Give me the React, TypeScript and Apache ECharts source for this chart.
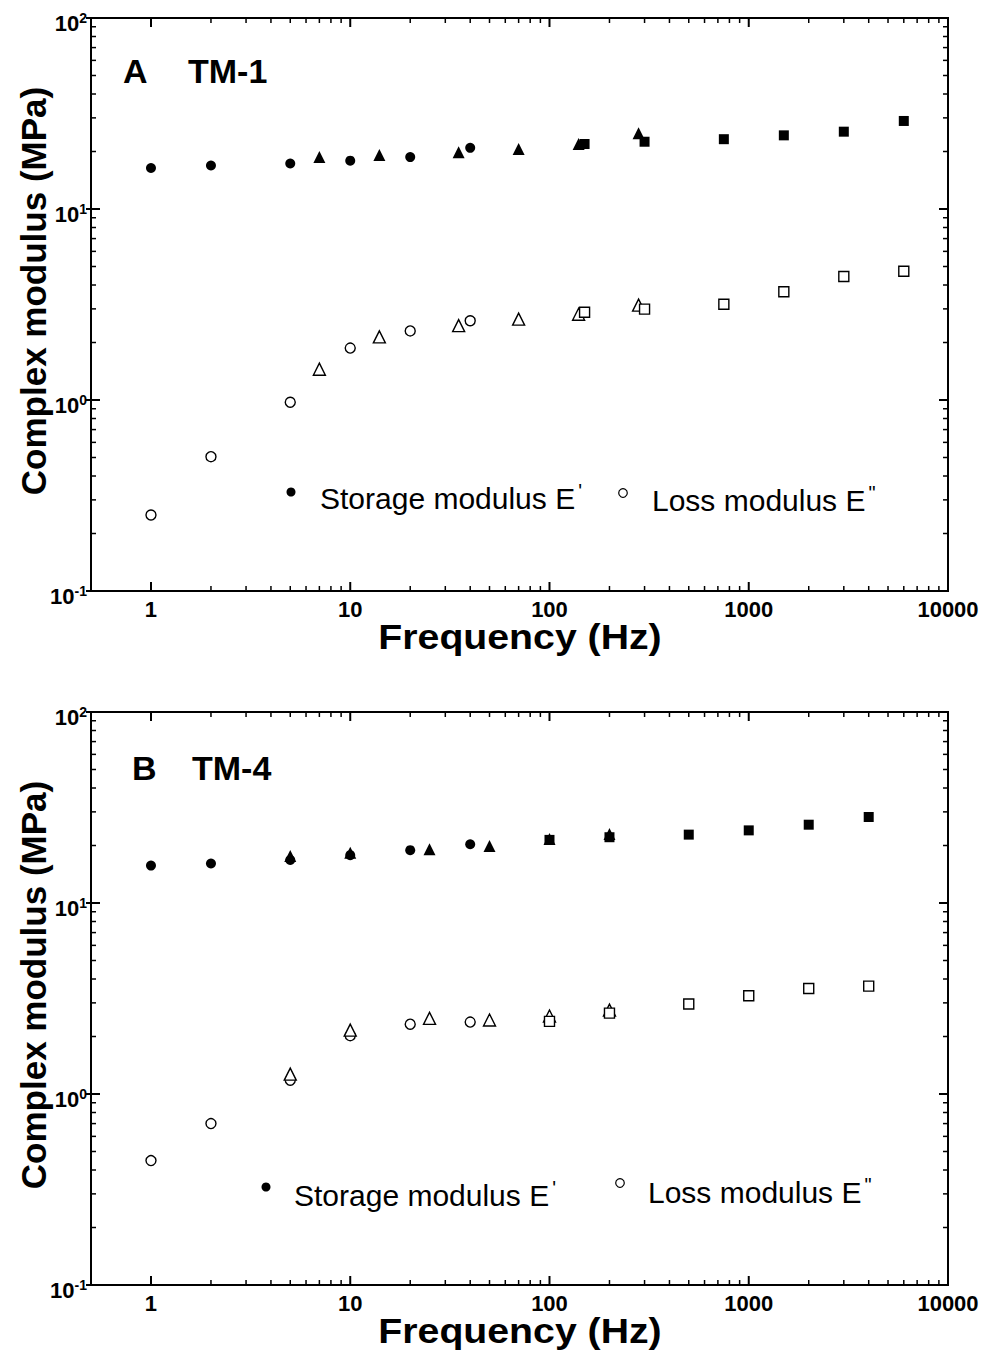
import React, { useEffect, useRef } from 'react';
import * as echarts from 'echarts';

// ---------- axes ----------
const xMin = 0.5;
const xMax = 10000;
const yMin = 0.1;
const yMax = 100;
const xMajorTicks = [1, 10, 100, 1000, 10000];
const xMinorTicks = [2, 3, 4, 5, 6, 7, 8, 9, 20, 30, 40, 50, 60, 70, 80, 90, 200, 300, 400, 500, 600, 700, 800, 900, 2000, 3000, 4000, 5000, 6000, 7000, 8000, 9000];
const yMajorTicks = [0.1, 1, 10, 100];
const yMinorTicks = [0.2, 0.3, 0.4, 0.5, 0.6, 0.7, 0.8, 0.9, 2, 3, 4, 5, 6, 7, 8, 9, 20, 30, 40, 50, 60, 70, 80, 90];

// ---------- Panel A : TM-1 ----------
const aCircleFreq = [1, 2, 5, 10, 20, 40];
const aCircleStorage = [16.4, 16.9, 17.3, 17.9, 18.7, 20.9];
const aCircleLoss = [0.25, 0.505, 0.973, 1.87, 2.3, 2.6];
const aTriFreq = [7, 14, 35, 70, 140, 280];
const aTriStorage = [18.7, 19.2, 19.8, 20.6, 21.9, 24.9];
const aTriLoss = [1.45, 2.14, 2.45, 2.65, 2.81, 3.14];
const aSqFreq = [150, 300, 750, 1500, 3000, 6000];
const aSqStorage = [21.9, 22.5, 23.2, 24.3, 25.4, 28.9];
const aSqLoss = [2.88, 2.99, 3.17, 3.69, 4.43, 4.72];

// ---------- Panel B : TM-4 ----------
const bCircleFreq = [1, 2, 5, 10, 20, 40];
const bCircleStorage = [15.7, 16.1, 16.8, 17.8, 18.9, 20.3];
const bCircleLoss = [0.448, 0.7, 1.18, 2.02, 2.32, 2.38];
const bTriFreq = [5, 10, 25, 50, 100, 200];
const bTriStorage = [17.6, 18.3, 19.1, 19.9, 21.6, 23.0];
const bTriLoss = [1.27, 2.16, 2.49, 2.44, 2.56, 2.75];
const bSqFreq = [100, 200, 500, 1000, 2000, 4000];
const bSqStorage = [21.4, 22.1, 22.8, 24.0, 25.7, 28.2];
const bSqLoss = [2.4, 2.65, 2.96, 3.27, 3.57, 3.67];

// ---------- texts ----------
const panelLetters = ['A', 'B'];
const panelNames = ['TM-1', 'TM-4'];
const xTitle = 'Frequency (Hz)';
const yTitle = 'Complex modulus (MPa)';
const storageLabel = 'Storage modulus E';
const lossLabel = 'Loss modulus E';

const FONT = "'Liberation Sans', Arial, Helvetica, sans-serif";
const NARROW = "'Liberation Sans Narrow', 'Liberation Sans', Arial, sans-serif";

const PANEL_DY = 694;

function scatter(g: number, freq: number[], vals: number[], symbol: string, size: number, filled: boolean) {
  return {
    type: 'scatter',
    xAxisIndex: g,
    yAxisIndex: g,
    symbol,
    symbolSize: size,
    silent: true,
    z: 3,
    data: freq.map((f, i) => [f, vals[i]]),
    itemStyle: filled
      ? { color: '#000', borderWidth: 0, opacity: 1 }
      : { color: '#fff', borderColor: '#000', borderWidth: 1.4, opacity: 1 },
  };
}

function tickSeries(g: number) {
  const data = [
    ...xMajorTicks.map((v) => [v, 1, 0]),
    ...xMinorTicks.map((v) => [v, 1, 1]),
    ...yMajorTicks.map((v) => [1, v, 2]),
    ...yMinorTicks.map((v) => [1, v, 3]),
  ];
  return {
    type: 'custom',
    xAxisIndex: g,
    yAxisIndex: g,
    silent: true,
    clip: false,
    z: 5,
    data,
    renderItem: (params: any, api: any) => {
      const kind = api.value(2);
      const major = kind === 0 || kind === 2;
      const len = major ? 9 : 5;
      const style = { stroke: '#000', lineWidth: major ? 2 : 1.5 };
      if (kind < 2) {
        const v = api.value(0);
        const b = api.coord([v, yMin]);
        const t = api.coord([v, yMax]);
        return {
          type: 'group',
          children: [
            { type: 'line', shape: { x1: b[0], y1: b[1], x2: b[0], y2: b[1] - len }, style },
            { type: 'line', shape: { x1: t[0], y1: t[1], x2: t[0], y2: t[1] + len }, style },
          ],
        };
      }
      const v = api.value(1);
      const l = api.coord([xMin, v]);
      const r = api.coord([xMax, v]);
      const out = major ? 5 : 0;
      return {
        type: 'group',
        children: [
          { type: 'line', shape: { x1: l[0] - out, y1: l[1], x2: l[0] + len, y2: l[1] }, style },
          { type: 'line', shape: { x1: r[0] - len, y1: r[1], x2: r[0], y2: r[1] }, style },
        ],
      };
    },
  };
}

function legendText(x: number, y: number, main: string, prime: string) {
  return {
    type: 'text',
    x,
    y,
    silent: true,
    style: {
      text: `{n|${main}}{p|${prime}}`,
      align: 'left',
      verticalAlign: 'middle',
      fill: '#000',
      rich: {
        n: { fontSize: 30, fontFamily: FONT, lineHeight: 34, fill: '#000' },
        p: { fontSize: 20, fontFamily: FONT, lineHeight: 20, verticalAlign: 'top', padding: [0, 0, 0, 3], fill: '#000' },
      },
    },
  };
}

function panelGraphics(i: number) {
  const dy = i * PANEL_DY;
  const letterX = i === 0 ? 123 : 132;
  const nameX = i === 0 ? 188 : 192;
  const labelY = i === 0 ? 71 : 768;
  const legend =
    i === 0
      ? { dotX: 291, dotY: 492, sx: 320, sy: 498, ocX: 623, ocY: 493, lx: 652, ly: 500 }
      : { dotX: 266, dotY: 1187, sx: 294, sy: 1195, ocX: 620, ocY: 1183, lx: 648, ly: 1192 };
  const boldText = (text: string, x: number, y: number, size: number) => ({
    type: 'text',
    x,
    y,
    silent: true,
    style: {
      text,
      fontSize: size,
      fontWeight: 'bold',
      fontFamily: FONT,
      fill: '#000',
      align: 'left',
      verticalAlign: 'middle',
    },
  });
  return [
    boldText(panelLetters[i], letterX, labelY, 34),
    boldText(panelNames[i], nameX, labelY, 34),
    {
      type: 'text',
      x: 33,
      y: 291 + dy,
      rotation: Math.PI / 2,
      silent: true,
      style: {
        text: yTitle,
        fontSize: 35,
        fontWeight: 'bold',
        fontFamily: FONT,
        fill: '#000',
        align: 'center',
        verticalAlign: 'middle',
      },
    },
    {
      type: 'text',
      x: 520,
      y: 637 + dy,
      scaleX: 1.09,
      silent: true,
      style: {
        text: xTitle,
        fontSize: 36,
        fontWeight: 'bold',
        fontFamily: FONT,
        fill: '#000',
        align: 'center',
        verticalAlign: 'middle',
      },
    },
    {
      type: 'circle',
      silent: true,
      shape: { cx: legend.dotX, cy: legend.dotY, r: 4.5 },
      style: { fill: '#000' },
    },
    legendText(legend.sx, legend.sy, storageLabel, "'"),
    {
      type: 'circle',
      silent: true,
      shape: { cx: legend.ocX, cy: legend.ocY, r: 4.3 },
      style: { fill: '#fff', stroke: '#000', lineWidth: 1.2 },
    },
    legendText(legend.lx, legend.ly, lossLabel, '"'),
  ];
}

export default function App() {
  const ref = useRef<HTMLDivElement>(null);
  useEffect(() => {
    document.body.style.margin = '0';
    if (!ref.current) return;
    const chart = echarts.init(ref.current, undefined, { renderer: 'svg' });
    const grids = [0, 1].map((i) => ({
      left: 91,
      top: 18 + i * PANEL_DY,
      width: 857,
      height: 573,
      show: true,
      borderColor: '#000',
      borderWidth: 2,
      backgroundColor: 'transparent',
      containLabel: false,
      outerBoundsMode: 'none',
    }));
    const xAxes = [0, 1].map((i) => ({
      type: 'log',
      gridIndex: i,
      logBase: 10,
      min: xMin,
      max: xMax,
      axisLine: { show: false },
      axisTick: { show: false },
      splitLine: { show: false },
      minorTick: { show: false },
      axisLabel: {
        show: true,
        showMinLabel: false,
        margin: 7,
        color: '#000',
        fontSize: 22,
        fontWeight: 'bold',
        fontFamily: NARROW,
        formatter: (v: number) => (v < 0.99 ? '' : String(Math.round(v))),
      },
    }));
    const yAxes = [0, 1].map((i) => ({
      type: 'log',
      gridIndex: i,
      logBase: 10,
      min: yMin,
      max: yMax,
      axisLine: { show: false },
      axisTick: { show: false },
      splitLine: { show: false },
      minorTick: { show: false },
      axisLabel: {
        show: true,
        margin: 4,
        padding: [10, 0, 0, 0],
        formatter: (v: number) => `{b|10}{s|${Math.round(Math.log10(v))}}`,
        rich: {
          b: { fontSize: 22, fontWeight: 'bold', fontFamily: FONT, lineHeight: 24, color: '#000' },
          s: { fontSize: 14, fontWeight: 'bold', fontFamily: FONT, lineHeight: 16, verticalAlign: 'top', color: '#000' },
        },
      },
    }));
    const series = [
      scatter(0, aCircleFreq, aCircleStorage, 'circle', 10, true),
      scatter(0, aTriFreq, aTriStorage, 'triangle', 12, true),
      scatter(0, aSqFreq, aSqStorage, 'rect', 10, true),
      scatter(0, aCircleFreq, aCircleLoss, 'circle', 10, false),
      scatter(0, aTriFreq, aTriLoss, 'triangle', 12, false),
      scatter(0, aSqFreq, aSqLoss, 'rect', 10, false),
      scatter(1, bCircleFreq, bCircleStorage, 'circle', 10, true),
      scatter(1, bTriFreq, bTriStorage, 'triangle', 12, true),
      scatter(1, bSqFreq, bSqStorage, 'rect', 10, true),
      scatter(1, bCircleFreq, bCircleLoss, 'circle', 10, false),
      scatter(1, bTriFreq, bTriLoss, 'triangle', 12, false),
      scatter(1, bSqFreq, bSqLoss, 'rect', 10, false),
      tickSeries(0),
      tickSeries(1),
    ];
    chart.setOption({
      animation: false,
      backgroundColor: '#fff',
      grid: grids,
      xAxis: xAxes,
      yAxis: yAxes,
      series,
      graphic: { elements: [...panelGraphics(0), ...panelGraphics(1)] },
    } as any);
    return () => chart.dispose();
  }, []);
  return <div ref={ref} style={{ width: 987, height: 1357 }} />;
}
